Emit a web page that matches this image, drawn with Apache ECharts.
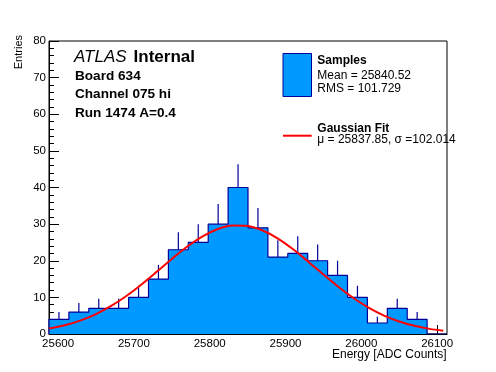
<!DOCTYPE html>
<html>
<head>
<meta charset="utf-8">
<script src="https://cdn.jsdelivr.net/npm/echarts@6/dist/echarts.min.js"></script>
<style>
html,body{margin:0;padding:0;background:#fff;}
#chart{width:496px;height:372px;}
</style>
</head>
<body>
<div id="chart"></div>
<script>
// ---- data ----
const binStart = 25588;
const binWidth = 26.25;
const counts = [4, 6, 7, 7, 10, 15, 23, 25, 30, 40, 29, 21, 22, 20, 16, 10, 3, 7, 4, 0];
const errUp = [2.0, 2.45, 2.65, 2.65, 3.16, 3.87, 4.8, 5.0, 5.48, 6.32, 5.39, 4.58, 4.69, 4.47, 4.0, 3.16, 1.73, 2.65, 2.0, 0];
const fitX = [25588, 25610, 25630, 25650, 25670, 25690, 25710, 25730, 25750, 25770, 25790, 25810, 25830, 25850,
              25870, 25890, 25910, 25930, 25950, 25970, 25990, 26010, 26030, 26050, 26070, 26090, 26108];
const fitY = [1.48, 2.45, 3.73, 5.45, 7.67, 10.39, 13.54, 16.98, 20.50, 23.81, 26.61, 28.61, 29.61, 29.49,
              28.26, 26.06, 23.13, 19.75, 16.23, 12.83, 9.77, 7.15, 5.04, 3.42, 2.23, 1.40, 0.89];
const xMajorTicks = [25600, 25700, 25800, 25900, 26000, 26100];
const xTickLabels = ['25600', '25700', '25800', '25900', '26000', '26100'];
const xMinorTicks = [25620, 25640, 25660, 25680, 25720, 25740, 25760, 25780, 25820, 25840, 25860, 25880,
                     25920, 25940, 25960, 25980, 26020, 26040, 26060, 26080];
const xMin = 25588, xMax = 26113;
const yMin = 0, yMax = 80;

// ---- build series data ----
const stepData = [[binStart, 0]];
for (let i = 0; i < counts.length; i++) stepData.push([binStart + i * binWidth, counts[i]]);
stepData.push([binStart + counts.length * binWidth, counts[counts.length - 1]]);
const errData = [];
for (let i = 0; i < counts.length; i++) {
  if (counts[i] > 0) errData.push([binStart + (i + 0.5) * binWidth, counts[i], errUp[i]]);
}
const fitData = fitX.map((x, i) => [x, fitY[i]]);

const FONT = "'Liberation Sans', Arial, Helvetica, sans-serif";
const FILL = '#0099ff';
const EDGE = '#000099';

const chart = echarts.init(document.getElementById('chart'), null, {renderer: 'canvas'});
chart.setOption({
  animation: false,
  backgroundColor: '#fff',
  grid: {left: 49, right: 49, top: 41, bottom: 38, show: true, borderColor: '#000', borderWidth: 1, backgroundColor: 'transparent'},
  xAxis: [{
    type: 'value', min: xMin, max: xMax,
    axisLine: {show: true, onZero: false, lineStyle: {color: '#000', width: 1}},
    axisTick: {show: true, inside: true, length: 9, customValues: xMajorTicks, lineStyle: {color: '#000'}},
    axisLabel: {show: true, customValues: xMajorTicks, margin: 4, color: '#000', fontSize: 11.5, fontFamily: FONT,
      formatter: v => xTickLabels[xMajorTicks.indexOf(v)] ?? String(v)},
    splitLine: {show: false}
  }, {
    type: 'value', min: xMin, max: xMax, position: 'bottom',
    axisLine: {show: false},
    axisTick: {show: true, inside: true, length: 4.5, customValues: xMinorTicks, lineStyle: {color: '#000'}},
    axisLabel: {show: false},
    splitLine: {show: false}
  }],
  yAxis: {
    type: 'value', min: yMin, max: yMax, interval: 10,
    axisLine: {show: true, lineStyle: {color: '#000', width: 1}},
    axisTick: {show: true, inside: true, length: 10, lineStyle: {color: '#000'}},
    minorTick: {show: true, splitNumber: 5, length: 5, lineStyle: {color: '#000'}},
    axisLabel: {margin: 3, color: '#000', fontSize: 11.5, fontFamily: FONT},
    splitLine: {show: false}, minorSplitLine: {show: false}
  },
  series: [{
    name: 'Samples', type: 'line', step: 'end', data: stepData, symbol: 'none',
    lineStyle: {color: EDGE, width: 1.2},
    areaStyle: {color: FILL, opacity: 1},
    z: 2
  }, {
    name: 'err', type: 'custom', data: errData, z: 3,
    renderItem: function (params, api) {
      const x = api.value(0), v = api.value(1), e = api.value(2);
      const p0 = api.coord([x, v]);
      const p1 = api.coord([x, v + e]);
      return {type: 'line', shape: {x1: p0[0], y1: p0[1], x2: p1[0], y2: p1[1]},
        style: {stroke: EDGE, lineWidth: 1.2}};
    }
  }, {
    name: 'Gaussian Fit', type: 'line', data: fitData, smooth: 0.3, symbol: 'none',
    lineStyle: {color: '#ff0000', width: 2}, z: 4
  }],
  graphic: [
    {type: 'text', x: 74, y: 57.4, style: {text: 'ATLAS', font: 'italic 17px ' + FONT, fill: '#000', verticalAlign: 'middle'}},
    {type: 'text', x: 133.6, y: 57.4, style: {text: 'Internal', font: 'bold 17px ' + FONT, fill: '#000', verticalAlign: 'middle'}},
    {type: 'text', x: 75, y: 76, style: {text: 'Board 634', font: 'bold 13.6px ' + FONT, fill: '#000', verticalAlign: 'middle'}},
    {type: 'text', x: 75, y: 94.6, style: {text: 'Channel 075 hi', font: 'bold 13.6px ' + FONT, fill: '#000', verticalAlign: 'middle'}},
    {type: 'text', x: 75, y: 113.6, style: {text: 'Run 1474 A=0.4', font: 'bold 13.6px ' + FONT, fill: '#000', verticalAlign: 'middle'}},
    {type: 'rect', shape: {x: 283, y: 53.5, width: 28.5, height: 43}, style: {fill: FILL, stroke: EDGE, lineWidth: 1}},
    {type: 'text', x: 317.3, y: 60.8, style: {text: 'Samples', font: 'bold 12px ' + FONT, fill: '#000', verticalAlign: 'middle'}},
    {type: 'text', x: 317.3, y: 75.8, style: {text: 'Mean = 25840.52', font: '12px ' + FONT, fill: '#000', verticalAlign: 'middle'}},
    {type: 'text', x: 317.3, y: 89.1, style: {text: 'RMS = 101.729', font: '12px ' + FONT, fill: '#000', verticalAlign: 'middle'}},
    {type: 'line', shape: {x1: 283, y1: 135.7, x2: 311.7, y2: 135.7}, style: {stroke: '#ff0000', lineWidth: 2}},
    {type: 'text', x: 317.3, y: 128.5, style: {text: 'Gaussian Fit', font: 'bold 12px ' + FONT, fill: '#000', verticalAlign: 'middle'}},
    {type: 'text', x: 317.3, y: 139.8, style: {text: 'μ = 25837.85, σ =102.014', font: '12px ' + FONT, fill: '#000', verticalAlign: 'middle'}},
    {type: 'text', x: 446.7, y: 354.8, style: {text: 'Energy [ADC Counts]', font: '12px ' + FONT, fill: '#000', align: 'right', verticalAlign: 'middle'}},
    {type: 'text', x: 18.5, y: 35, rotation: Math.PI / 2, style: {text: 'Entries', font: '11px ' + FONT, fill: '#000', align: 'right', verticalAlign: 'middle'}}
  ]
});
</script>
</body>
</html>
